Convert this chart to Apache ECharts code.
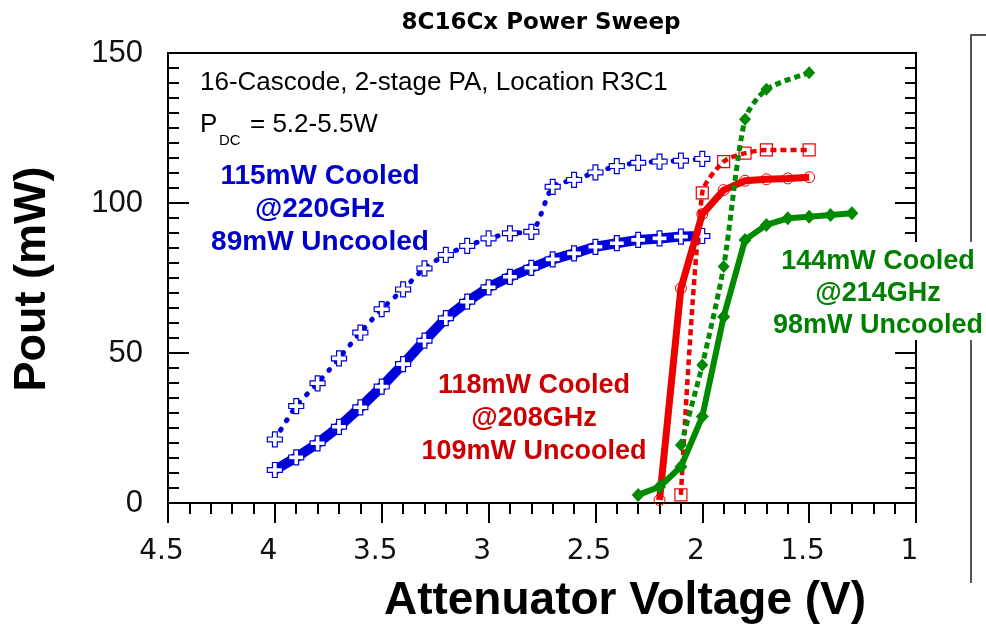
<!DOCTYPE html>
<html>
<head>
<meta charset="utf-8">
<script src="https://cdn.jsdelivr.net/npm/echarts@6/dist/echarts.min.js"></script>
<style>
html,body{margin:0;padding:0;background:#fff;}
#chart{width:986px;height:627px;}
</style>
</head>
<body>
<div id="chart"></div>
<script>
// ---- data ----
const xTicks = [4.5, 4, 3.5, 3, 2.5, 2, 1.5, 1];
const yTicks = [0, 50, 100, 150];

const blueVolts = [4.0,3.9,3.8,3.7,3.6,3.5,3.4,3.3,3.2,3.1,3.0,2.9,2.8,2.7,2.6,2.5,2.4,2.3,2.2,2.1,2.0];
const blueUncooled = [11.0,15.2,19.9,25.4,31.9,38.8,46.3,54.1,61.6,67.1,71.9,75.4,78.4,81.2,83.2,85.4,86.6,87.7,88.2,88.8,89.0];
const blueCooled = [21.2,32.3,39.9,48.2,56.8,64.6,71.2,78.2,82.7,85.7,88.2,89.9,90.4,105.4,107.7,110.2,112.3,113.4,113.8,114.1,114.7];

const redUncooledVolts = [2.2,2.1,2.0,1.9,1.8,1.7,1.6,1.5];
const redUncooled = [1.0,71.6,96.3,104.3,107.4,107.9,108.2,108.6];
const redCooledVolts = [2.1,2.0,1.9,1.8,1.7,1.5];
const redCooled = [2.7,103.4,113.8,116.6,117.7,117.7];

const greenUncooledVolts = [2.3,2.2,2.1,2.0,1.9,1.8,1.7,1.6,1.5,1.4,1.3];
const greenUncooled = [2.7,5.4,12.1,28.8,62.1,87.7,92.7,94.9,95.4,96.0,96.6];
const greenCooledVolts = [2.1,2.0,1.9,1.8,1.7,1.5];
const greenCooled = [19.3,46.0,78.8,127.9,137.9,143.4];

const blueNotes = ['115mW Cooled', '@220GHz', '89mW Uncooled'];
const redNotes = ['118mW Cooled', '@208GHz', '109mW Uncooled'];
const greenNotes = ['144mW Cooled', '@214GHz', '98mW Uncooled'];

// ---- styling ----
const BLUE = '#0000dd', RED = '#ee0000', GREEN = '#008a00';
const BLUE_T = '#0000cc', RED_T = '#cc0000', GREEN_T = '#008000';
const PLUS = 'path://M3.4,0H6.6V3.4H10V6.6H6.6V10H3.4V6.6H0V3.4H3.4Z';

function zip(xs, ys){ return xs.map((x,i)=>[x, ys[i]]); }

const chart = echarts.init(document.getElementById('chart'), null, {renderer:'canvas'});

function noteTexts(lines, cx, y0, dy, color, size){
  return lines.map((t,i)=>({
    type:'text', x:cx, y:y0 + i*dy, z:110,
    style:{text:t, fill:color, font:'bold '+size+'px "Liberation Sans", Arial, sans-serif', align:'center', verticalAlign:'middle'}
  }));
}

const option = {
  backgroundColor:'#fff',
  animation:false,
  title:{
    text:'8C16Cx Power Sweep', left:541, top:12, textAlign:'center', padding:0,
    textStyle:{fontFamily:'DejaVu Sans', fontWeight:'bold', fontSize:23, color:'#000'}
  },
  grid:{left:168, right:70, top:53, bottom:124, show:true, borderColor:'#000', borderWidth:2, containLabel:false},
  xAxis:{
    type:'value', min:1, max:4.5, interval:0.5, inverse:true,
    axisLine:{show:true, onZero:false, lineStyle:{color:'#000', width:2}},
    axisTick:{show:true, inside:false, length:20, lineStyle:{color:'#000', width:2}},
    minorTick:{show:true, splitNumber:5, length:11, lineStyle:{color:'#000', width:2}},
    splitLine:{show:false},
    axisLabel:{margin:35, fontFamily:'DejaVu Sans', fontSize:28, color:'#111', padding:[0,13,0,0],
      formatter:(v)=> xTicks.includes(v) ? String(v) : ''}
  },
  yAxis:[{
    type:'value', min:0, max:150, interval:50, position:'left',
    axisLine:{show:true, onZero:false, lineStyle:{color:'#000', width:2}},
    axisTick:{show:true, inside:true, length:21, lineStyle:{color:'#000', width:2}},
    minorTick:{show:true, splitNumber:10, length:11, lineStyle:{color:'#000', width:2}},
    splitLine:{show:false},
    axisLabel:{margin:25, fontFamily:'Liberation Sans', fontSize:31, color:'#111', padding:[0,0,8,0],
      formatter:(v)=> yTicks.includes(v) ? String(v) : ''}
  },{
    type:'value', min:0, max:150, interval:50, position:'right',
    axisLine:{show:true, onZero:false, lineStyle:{color:'#000', width:2}},
    axisTick:{show:true, inside:true, length:21, lineStyle:{color:'#000', width:2}},
    minorTick:{show:true, splitNumber:10, length:11, lineStyle:{color:'#000', width:2}},
    splitLine:{show:false},
    axisLabel:{show:false}
  }],
  series:[
    {
      name:'89mW Uncooled', type:'line', data:zip(blueVolts, blueUncooled), z:2,
      lineStyle:{color:BLUE, width:10}, itemStyle:{color:'#fff', borderColor:BLUE, borderWidth:1.2},
      symbol:PLUS, symbolSize:15, showAllSymbol:true
    },
    {
      name:'115mW Cooled', type:'line', data:zip(blueVolts, blueCooled), z:2, smooth:0.25,
      lineStyle:{color:BLUE, width:5, type:[1,10], cap:'round'}, itemStyle:{color:'#fff', borderColor:BLUE, borderWidth:1.2},
      symbol:PLUS, symbolSize:15, showAllSymbol:true
    },
    {
      name:'109mW Uncooled', type:'line', data:zip(redUncooledVolts, redUncooled), z:3,
      lineStyle:{color:RED, width:7}, itemStyle:{color:'rgba(255,255,255,0)', borderColor:RED, borderWidth:1},
      symbol:'circle', symbolSize:11, showAllSymbol:true
    },
    {
      name:'118mW Cooled', type:'line', data:zip(redCooledVolts, redCooled), z:3, smooth:0.25,
      lineStyle:{color:RED, width:4.5, type:[6,4]}, itemStyle:{color:'rgba(255,255,255,0)', borderColor:RED, borderWidth:1.2},
      symbol:'rect', symbolSize:12, showAllSymbol:true
    },
    {
      name:'98mW Uncooled', type:'line', data:zip(greenUncooledVolts, greenUncooled), z:4,
      lineStyle:{color:GREEN, width:6}, itemStyle:{color:GREEN},
      symbol:'diamond', symbolSize:[13,14], showAllSymbol:true
    },
    {
      name:'144mW Cooled', type:'line', data:zip(greenCooledVolts, greenCooled), z:4, smooth:0.25,
      lineStyle:{color:GREEN, width:5, type:[6,4]}, itemStyle:{color:GREEN},
      symbol:'diamond', symbolSize:[12,13], showAllSymbol:true
    }
  ],
  graphic:[
    // secondary frame at the far right
    {type:'polyline', z:50, shape:{points:[[986,35],[971,35],[971,583]]}, style:{stroke:'#555', lineWidth:2, fill:null}},
    // white box behind the green note
    {type:'rect', z:100, shape:{x:772, y:242, width:214, height:98}, style:{fill:'#fff'}},
    // in-plot description
    {type:'text', x:200, y:83, z:110, style:{text:'16-Cascode, 2-stage PA, Location R3C1', fill:'#000', font:'26px "Liberation Sans", Arial, sans-serif', align:'left', verticalAlign:'middle'}},
    {type:'text', x:200, y:125, z:110, style:{text:'P', fill:'#000', font:'26px "Liberation Sans", Arial, sans-serif', align:'left', verticalAlign:'middle'}},
    {type:'text', x:219, y:141, z:110, style:{text:'DC', fill:'#000', font:'15px "Liberation Sans", Arial, sans-serif', align:'left', verticalAlign:'middle'}},
    {type:'text', x:250, y:125, z:110, style:{text:'= 5.2-5.5W', fill:'#000', font:'26px "Liberation Sans", Arial, sans-serif', align:'left', verticalAlign:'middle'}},
    // axis titles
    {type:'text', x:33, y:279, rotation:Math.PI/2, z:110, style:{text:'Pout (mW)', fill:'#000', font:'bold 45px "Liberation Sans", Arial, sans-serif', align:'center', verticalAlign:'middle'}},
    {type:'text', x:625, y:601, z:110, style:{text:'Attenuator Voltage (V)', fill:'#000', font:'bold 46px "Liberation Sans", Arial, sans-serif', align:'center', verticalAlign:'middle'}},
    ...noteTexts(blueNotes, 320, 176, 33, BLUE_T, 28),
    ...noteTexts(redNotes, 534, 386, 33, RED_T, 27),
    ...noteTexts(greenNotes, 878, 262, 32, GREEN_T, 27)
  ]
};
chart.setOption(option);
</script>
</body>
</html>
